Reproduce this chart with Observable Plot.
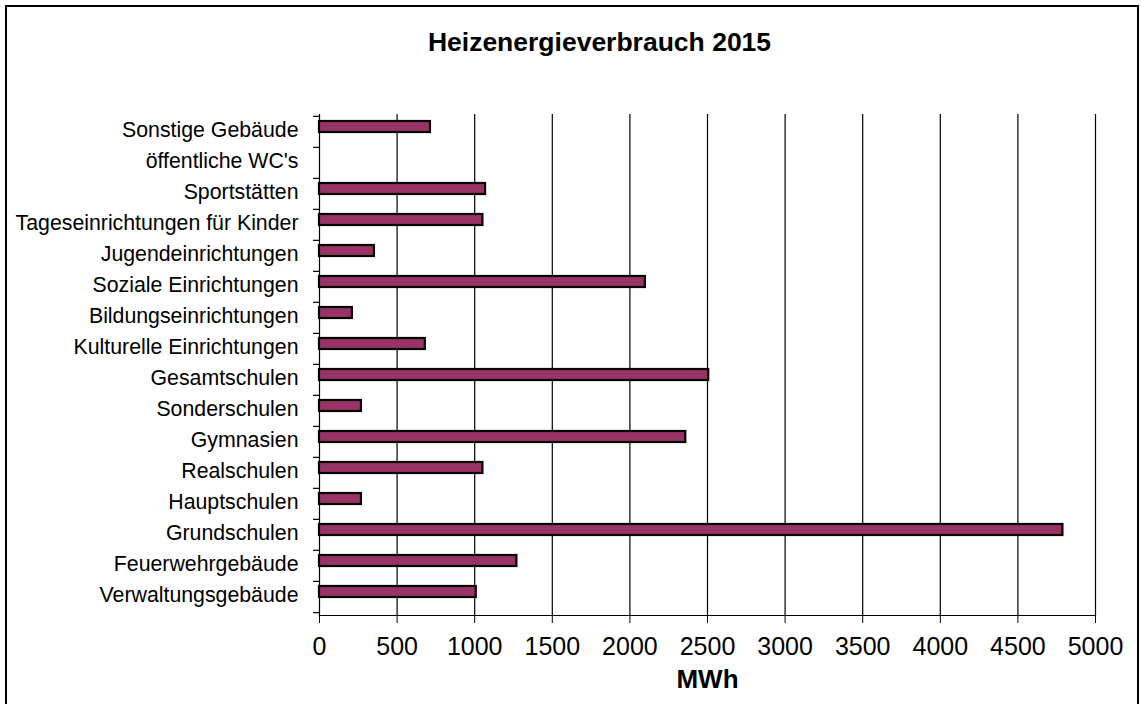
<!DOCTYPE html>
<html>
<head>
<meta charset="utf-8">
<script src="https://cdn.jsdelivr.net/npm/d3@7"></script>
<script src="https://cdn.jsdelivr.net/npm/@observablehq/plot@0.6"></script>
<style>
  html, body { margin: 0; padding: 0; background: #fff; }
  #wrap { position: relative; width: 1141px; height: 704px; overflow: hidden; font-family: "Liberation Sans", Arial, sans-serif; }
  #border { position: absolute; left: 5px; top: 5px; width: 1134px; height: 720px; box-sizing: border-box; border: 2px solid #000; pointer-events: none; }
  #title { height: 80px; box-sizing: border-box; padding-top: 27px; padding-left: 58px; text-align: center; font-weight: bold; font-size: 26.5px; line-height: 30px; color: #000; }
  svg { display: block; }
</style>
</head>
<body>
<div id="wrap">
  <div id="title">Heizenergieverbrauch 2015</div>
  <div id="chart"></div>
  <div id="border"></div>
</div>
<script>
const categories = [
  "Sonstige Gebäude",
  "öffentliche WC's",
  "Sportstätten",
  "Tageseinrichtungen für Kinder",
  "Jugendeinrichtungen",
  "Soziale Einrichtungen",
  "Bildungseinrichtungen",
  "Kulturelle Einrichtungen",
  "Gesamtschulen",
  "Sonderschulen",
  "Gymnasien",
  "Realschulen",
  "Hauptschulen",
  "Grundschulen",
  "Feuerwehrgebäude",
  "Verwaltungsgebäude"
];
const values = [715, 0, 1070, 1053, 354, 2100, 212, 682, 2508, 270, 2360, 1053, 270, 4790, 1272, 1010];
const xTicks = [0, 500, 1000, 1500, 2000, 2500, 3000, 3500, 4000, 4500, 5000];
const xLabel = "MWh";

const data = categories.map((c, i) => ({category: c, value: values[i]}));

const height = 624, marginTop = 34, marginBottom = 89;
const step = (height - marginTop - marginBottom) / categories.length;
const pxPerUnit = (1141 - 319 - 46) / 5000;
const tickLenUnits = 6 / pxPerUnit;

const chart = Plot.plot({
  width: 1141,
  height,
  marginLeft: 319,
  marginRight: 46,
  marginTop,
  marginBottom,
  style: {fontFamily: "'Liberation Sans', Arial, sans-serif", color: "#000", background: "#fff"},
  x: {domain: [0, 5000], ticks: xTicks, tickFormat: d => String(d)},
  y: {domain: categories, paddingInner: 0.63, paddingOuter: 0.315},
  marks: [
    Plot.ruleX(xTicks.filter(d => d > 0), {stroke: "#000", strokeWidth: 1.2}),
    Plot.frame({anchor: "left", stroke: "#000", strokeWidth: 1.2}),
    Plot.frame({anchor: "bottom", stroke: "#000", strokeWidth: 1.2}),
    Plot.ruleY(categories, {y: d => d, dy: -step / 2, x1: -tickLenUnits, x2: 0, stroke: "#000", strokeWidth: 1.2}),
    Plot.ruleY([categories[categories.length - 1]], {y: d => d, dy: step / 2, x1: -tickLenUnits, x2: 0, stroke: "#000", strokeWidth: 1.2}),
    Plot.barX(data, {y: "category", x: "value", dy: -5, fill: "#993366", stroke: "#000", strokeWidth: 2.2}),
    Plot.axisX({ticks: xTicks, tickFormat: d => String(d), tickSize: 8, tickPadding: 14, fontSize: 25, label: null, stroke: "#000"}),
    Plot.axisY({tickSize: 0, tickPadding: 21, fontSize: 21.3, label: null, dy: -2}),
    Plot.text([xLabel], {frameAnchor: "bottom", dy: 64, text: d => d, fontSize: 26, fontWeight: "bold", lineAnchor: "middle"})
  ]
});
document.getElementById("chart").appendChild(chart);
</script>
</body>
</html>
